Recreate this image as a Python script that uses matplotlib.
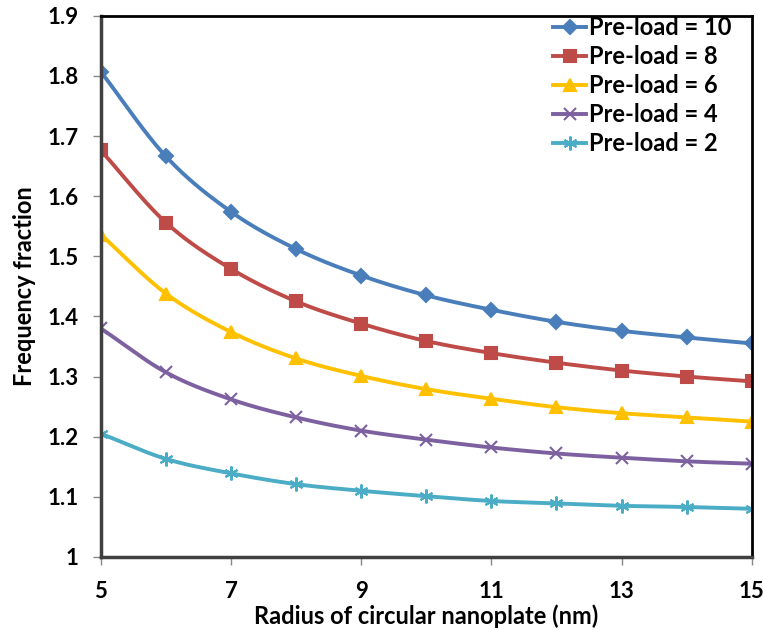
import numpy as np
import matplotlib.pyplot as plt

# Radius of circular nanoplate (nm)
radius = [5, 6, 7, 8, 9, 10, 11, 12, 13, 14, 15]

# Frequency fraction for each pre-load
pl10 = [1.807, 1.666, 1.574, 1.512, 1.468, 1.435, 1.411, 1.391, 1.376, 1.365, 1.355]
pl8 = [1.676, 1.556, 1.479, 1.425, 1.388, 1.359, 1.339, 1.323, 1.310, 1.300, 1.292]
pl6 = [1.536, 1.438, 1.374, 1.330, 1.301, 1.279, 1.263, 1.249, 1.239, 1.232, 1.225]
pl4 = [1.380, 1.307, 1.262, 1.232, 1.210, 1.195, 1.182, 1.172, 1.165, 1.159, 1.155]
pl2 = [1.205, 1.163, 1.139, 1.121, 1.110, 1.101, 1.093, 1.089, 1.085, 1.083, 1.080]

labels = ['Pre-load = 10', 'Pre-load = 8', 'Pre-load = 6', 'Pre-load = 4', 'Pre-load = 2']
colors = ['#4A7EBB', '#BE4B48', '#FFC000', '#7D60A0', '#4BACC6']
markers = ['D', 's', '^', 'x', (6, 2, 0)]
msizes = [7, 8, 9, 8, 10]


def smooth(x, y, n=20):
    # catmull-rom curve through the points (like excel's smoothed line)
    x = np.asarray(x, float); y = np.asarray(y, float)
    px = np.concatenate([[2*x[0]-x[1]], x, [2*x[-1]-x[-2]]])
    py = np.concatenate([[2*y[0]-y[1]], y, [2*y[-1]-y[-2]]])
    xs, ys = [], []
    t = np.linspace(0, 1, n, endpoint=False)
    for i in range(1, len(px)-2):
        for p, out in ((px, xs), (py, ys)):
            p0, p1, p2, p3 = p[i-1], p[i], p[i+1], p[i+2]
            out.extend(0.5*((2*p1) + (-p0+p2)*t + (2*p0-5*p1+4*p2-p3)*t**2
                            + (-p0+3*p1-3*p2+p3)*t**3))
    xs.append(x[-1]); ys.append(y[-1])
    return np.array(xs), np.array(ys)


plt.rcParams['font.family'] = ['Lato', 'DejaVu Sans']
plt.rcParams['font.weight'] = 'bold'

fig = plt.figure(figsize=(7.64, 6.3), dpi=100)
ax = fig.add_axes([0.132, 0.116, 0.852, 0.859])

for ys, lab, c, m, ms in zip([pl10, pl8, pl6, pl4, pl2], labels, colors, markers, msizes):
    sx, sy = smooth(radius, ys)
    ax.plot(sx, sy, '-', color=c, lw=2.8, solid_capstyle='round')
    ax.plot(radius, ys, linestyle='none', marker=m, color=c, ms=ms, mew=1.5)
    ax.plot([], [], '-', color=c, lw=2.8, marker=m, ms=ms, mew=1.5, label=lab)

ax.set_xlim(5, 15)
ax.set_ylim(1, 1.9)
ax.set_xticks([5, 7, 9, 11, 13, 15])
ax.set_yticks(np.arange(1, 1.91, 0.1))
ax.set_yticklabels(['1', '1.1', '1.2', '1.3', '1.4', '1.5', '1.6', '1.7', '1.8', '1.9'])
ax.tick_params(axis='both', labelsize=16, colors='#888888', labelcolor='black', length=6, width=1)
ax.tick_params(axis='x', pad=11)
ax.tick_params(axis='y', pad=10)

for s in ['left', 'bottom']:
    ax.spines[s].set_color('#404040')
    ax.spines[s].set_linewidth(2.5)
for s in ['top', 'right']:
    ax.spines[s].set_color('black')
    ax.spines[s].set_linewidth(2)

ax.set_xlabel('Radius of circular nanoplate (nm)', fontsize=17, fontweight='bold', labelpad=2)
ax.set_ylabel('Frequency fraction', fontsize=17, fontweight='bold', labelpad=8)

ax.legend(loc='upper right', frameon=False, fontsize=17, handlelength=1.4,
          handletextpad=0.1, labelspacing=0.25, borderaxespad=0.2,
          bbox_to_anchor=(0.99, 1.025))

fig.savefig('out.png', dpi=100)
